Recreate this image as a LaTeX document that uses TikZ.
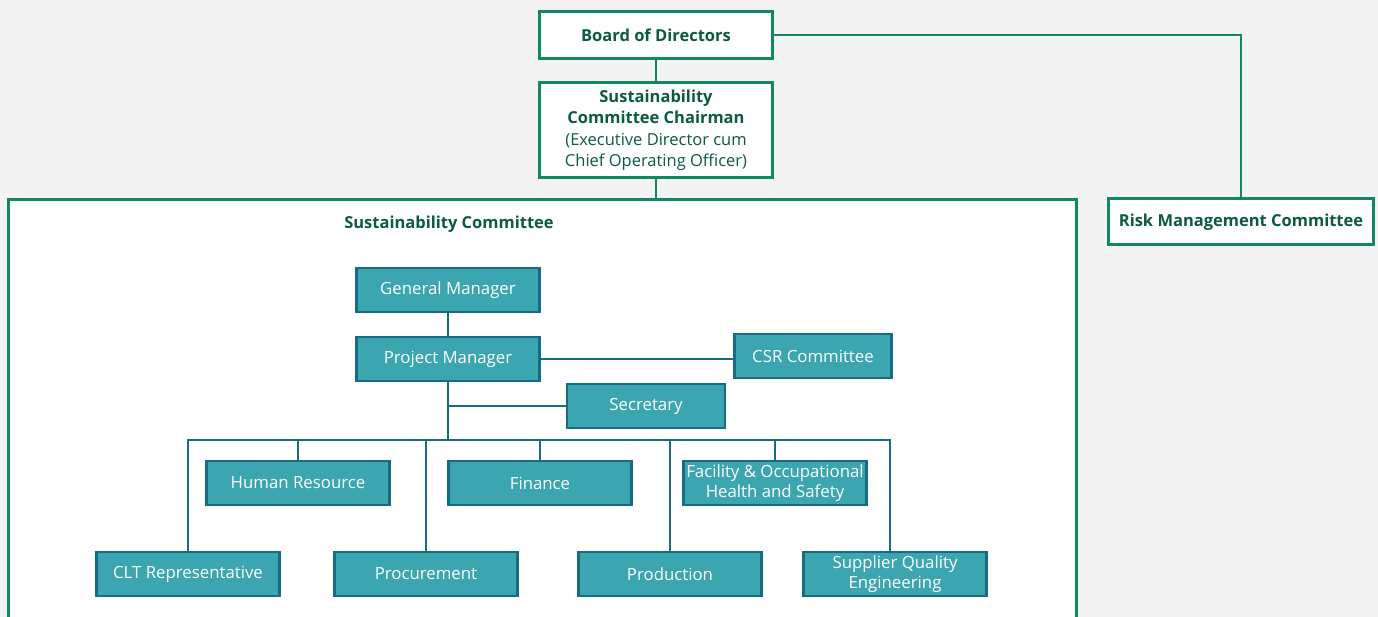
\documentclass[tikz,border=0pt]{standalone}
\usepackage{fontspec}
\setmainfont{Open Sans}
\usetikzlibrary{positioning}

\definecolor{bggrey}{HTML}{F2F3F2}
\definecolor{boardgreen}{HTML}{12895A}
\definecolor{textgreen}{HTML}{0B5C38}
\definecolor{tealfill}{HTML}{3BA6AF}
\definecolor{tealedge}{HTML}{176B82}

\tikzset{
  greenbox/.style={draw=boardgreen,line width=3pt,fill=white,text=textgreen,
    font=\fontsize{16.5}{21.5}\selectfont\bfseries,align=center,inner sep=0pt},
  tealbox/.style={draw=tealedge,line width=2.8pt,fill=tealfill,text=white,
    font=\fontsize{16.8}{19.5}\selectfont,align=center,inner sep=0pt,
    minimum width=183pt,minimum height=44pt},
  greenline/.style={draw=boardgreen,line width=2.8pt},
  tealline/.style={draw=tealedge,line width=2.8pt}
}

\begin{document}
\begin{tikzpicture}[x=1pt,y=-1pt]
  \useasboundingbox (0,0) rectangle (1378,617);
  \clip (0,0) rectangle (1378,617);
  \fill[bggrey] (0,0) rectangle (1378,617);

  % top of the chart
  \node[greenbox,minimum width=233pt,minimum height=47pt] (board) at (656,35) {Board of Directors};
  \node[greenbox,minimum width=233pt,minimum height=95pt] (chair) at (656,130)
    {Sustainability\\Committee Chairman\\{\mdseries (Executive Director cum}\\{\mdseries Chief Operating Officer)}};
  \node[greenbox,minimum width=265pt,minimum height=46pt] (risk) at (1241,222) {Risk Management Committee};
  \node[greenbox,anchor=north west,minimum width=1068pt,minimum height=460pt] (committee) at (7,198) {};
  \node[text=textgreen,font=\fontsize{16.5}{18}\selectfont\bfseries] (committeetitle) at (449,224) {Sustainability Committee};

  \draw[greenline] (board) -- (chair);
  \draw[greenline] (chair.south) -- (chair.south |- committee.north);
  \draw[greenline] (board.east) -| (risk.north);

  % members
  \node[tealbox] (gm) at (448,290) {General Manager};
  \node[tealbox] (pm) at (448,359) {Project Manager};
  \node[tealbox,minimum width=157pt] (csr) at (813,356) {CSR Committee};
  \node[tealbox,minimum width=158pt] (sec) at (646,406) {Secretary};
  \node[tealbox] (hr) at (298,483) {Human Resource};
  \node[tealbox] (fin) at (540,483) {Finance};
  \node[tealbox] (fohs) at (775,483) {Facility \& Occupational\\Health and Safety};
  \node[tealbox] (clt) at (188,574) {CLT Representative};
  \node[tealbox] (proc) at (426,574) {Procurement};
  \node[tealbox] (prod) at (670,574) {Production};
  \node[tealbox] (sqe) at (895,574) {Supplier Quality\\Engineering};

  \coordinate (bus) at (448,440);
  \coordinate (sqedrop) at (890,0);

  \draw[tealline] (gm) -- (pm);
  \draw[tealline] (pm.east) -- (pm.east -| csr.west);
  \draw[tealline] (pm.south) -- (bus);
  \draw[tealline] (pm.south |- sec.west) -- (sec.west);
  \draw[tealline] (clt.north) |- (bus) -| (sqedrop |- sqe.north);
  \foreach \n in {hr,fin,fohs,proc,prod}
    \draw[tealline] (\n.north |- bus) -- (\n.north);
\end{tikzpicture}
\end{document}
